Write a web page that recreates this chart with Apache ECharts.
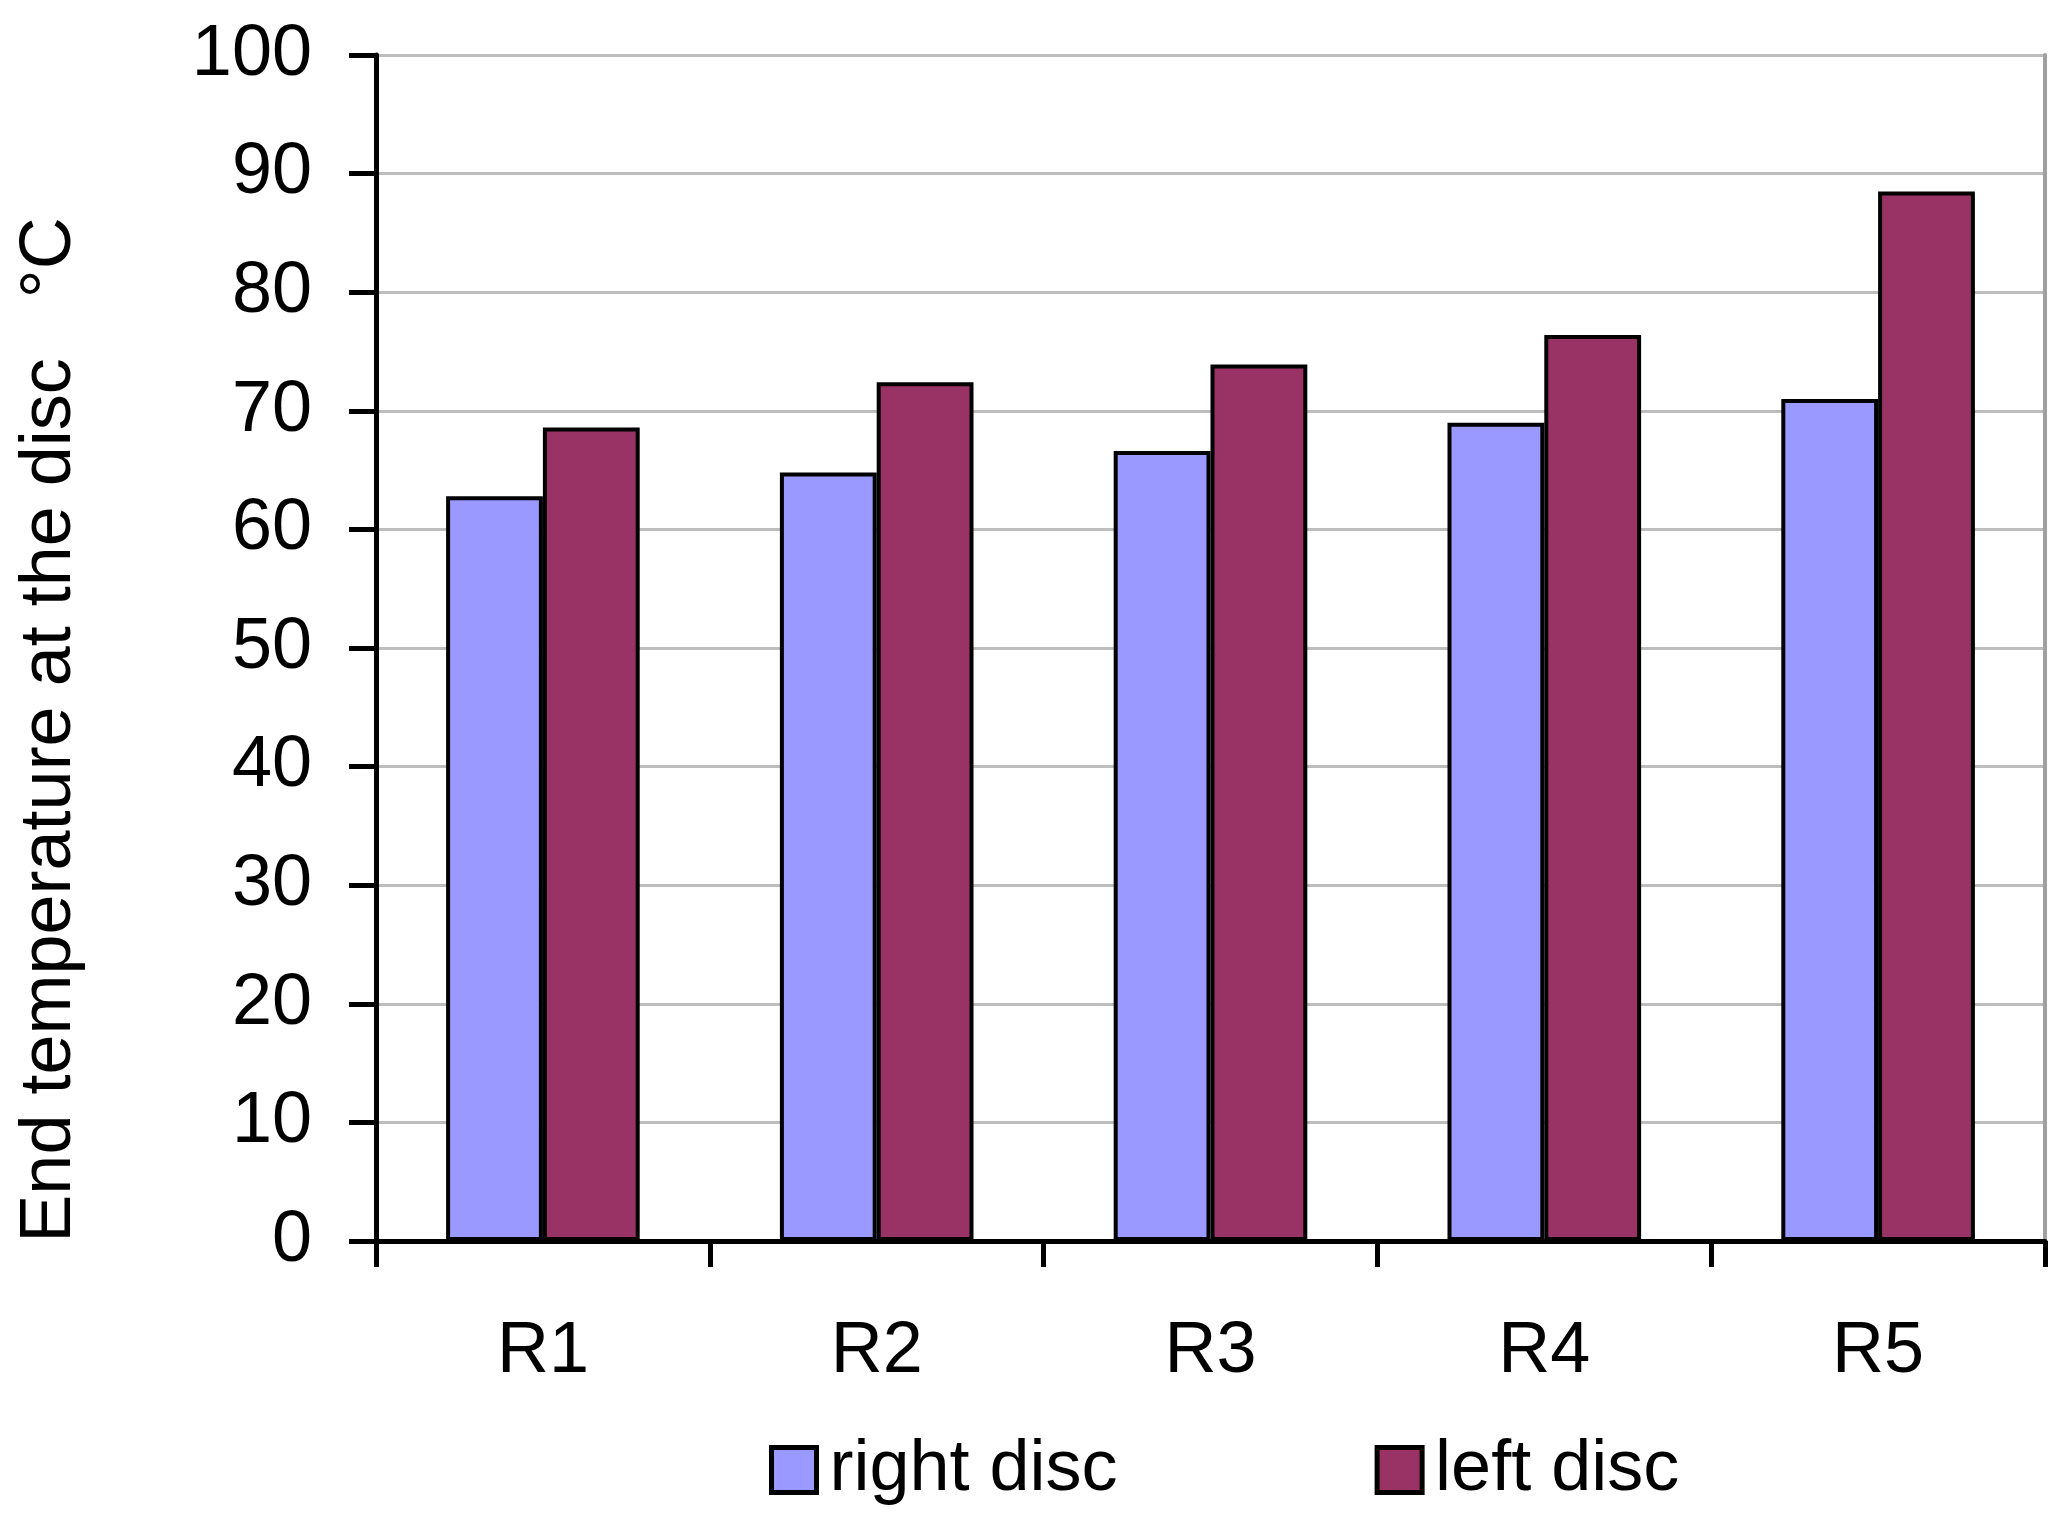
<!DOCTYPE html>
<html>
<head>
<meta charset="utf-8">
<script src="https://cdn.jsdelivr.net/npm/echarts@6/dist/echarts.min.js"></script>
<style>
  html, body { margin: 0; padding: 0; background: #fff; }
  #my-chart { width: 2070px; height: 1520px; }
</style>
</head>
<body>
<div id="my-chart"></div>
<script>
// 数据
const categories = ["R1", "R2", "R3", "R4", "R5"];
const rightDisc = [62.8, 64.8, 66.6, 69.0, 71.0];
const leftDisc = [68.6, 72.4, 73.9, 76.4, 88.5];
const seriesNames = ["right disc", "left disc"];
const yTicks = { min: 0, max: 100, interval: 10 };
const axisTitle = "End temperature at the disc   °C";

const font = "'Liberation Sans', Arial, sans-serif";
const myChart = echarts.init(document.getElementById("my-chart"));

const option = {
  backgroundColor: "#ffffff",
  animation: false,
  grid: {
    left: 376,
    right: 25,
    top: 55,
    bottom: 279,
  },
  legend: {
    left: 764,
    top: 1429,
    itemWidth: 45,
    itemHeight: 45,
    itemGap: 257,
    icon: "rect",
    itemStyle: { borderColor: "#000", borderWidth: 5 },
    textStyle: {
      color: "#000",
      fontSize: 72,
      fontFamily: font,
      padding: [0, 0, 0, 8],
    },
    data: seriesNames,
  },
  xAxis: {
    type: "category",
    data: categories,
    axisLine: { lineStyle: { color: "#000", width: 5 } },
    axisTick: { show: true, length: 26, lineStyle: { color: "#000", width: 5 } },
    axisLabel: {
      color: "#000",
      fontSize: 72,
      fontFamily: font,
      margin: 75,
    },
    splitLine: { show: false },
  },
  yAxis: [
    {
      type: "value",
      min: yTicks.min,
      max: yTicks.max,
      interval: yTicks.interval,
      name: axisTitle,
      nameLocation: "middle",
      nameGap: 290,
      nameTextStyle: {
        color: "#000",
        fontSize: 72,
        fontFamily: font,
        padding: [0, 164, 0, 0],
      },
      axisLine: { show: true, lineStyle: { color: "#000", width: 5 } },
      axisTick: { show: true, length: 27, lineStyle: { color: "#000", width: 5 } },
      axisLabel: {
        color: "#000",
        fontSize: 72,
        fontFamily: font,
        margin: 64,
      },
      splitLine: { show: true, lineStyle: { color: "#bdbdbd", width: 3 } },
    },
    {
      // 右侧边框
      type: "value",
      position: "right",
      min: yTicks.min,
      max: yTicks.max,
      interval: yTicks.interval,
      axisLine: { show: true, lineStyle: { color: "#a0a0a0", width: 4 } },
      axisTick: { show: false },
      axisLabel: { show: false },
      splitLine: { show: false },
    },
  ],
  series: [
    {
      name: seriesNames[0],
      type: "bar",
      data: rightDisc,
      barGap: "0%",
      barCategoryGap: "42%",
      itemStyle: { color: "#9999ff", borderColor: "#000", borderWidth: 4 },
    },
    {
      name: seriesNames[1],
      type: "bar",
      data: leftDisc,
      itemStyle: { color: "#993366", borderColor: "#000", borderWidth: 4 },
    },
  ],
};
myChart.setOption(option);
</script>
</body>
</html>
